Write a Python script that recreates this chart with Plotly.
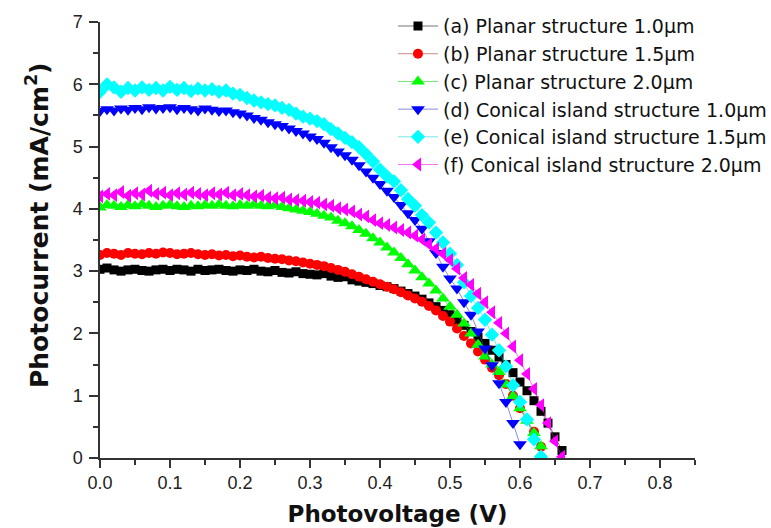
import plotly.graph_objects as go

voltage = [0.00, 0.01, 0.02, 0.03, 0.04, 0.05, 0.06, 0.07, 0.08, 0.09,
           0.10, 0.11, 0.12, 0.13, 0.14, 0.15, 0.16, 0.17, 0.18, 0.19,
           0.20, 0.21, 0.22, 0.23, 0.24, 0.25, 0.26, 0.27, 0.28, 0.29,
           0.30, 0.31, 0.32, 0.33, 0.34, 0.35, 0.36, 0.37, 0.38, 0.39,
           0.40, 0.41, 0.42, 0.43, 0.44, 0.45, 0.46, 0.47, 0.48, 0.49,
           0.50, 0.51, 0.52, 0.53, 0.54, 0.55, 0.56, 0.57, 0.58, 0.59,
           0.60, 0.61, 0.62, 0.63, 0.64, 0.65, 0.66]

planar_10 = [3.03, 3.05, 3.02, 3.00, 3.02, 3.03, 3.01, 3.00, 3.02, 3.03,
             3.01, 3.03, 3.02, 3.00, 3.03, 3.01, 3.02, 3.03, 3.01, 3.00,
             3.02, 3.01, 3.03, 3.00, 2.99, 3.01, 2.98, 2.97, 2.99, 2.96,
             2.95, 2.94, 2.96, 2.92, 2.90, 2.91, 2.86, 2.84, 2.82, 2.80,
             2.77, 2.75, 2.72, 2.68, 2.64, 2.60, 2.55, 2.49, 2.43, 2.37,
             2.30, 2.21, 2.13, 2.03, 1.94, 1.84, 1.73, 1.62, 1.50, 1.37,
             1.22, 1.08, 0.92, 0.75, 0.56, 0.34, 0.12]

planar_15 = [3.26, 3.29, 3.28, 3.26, 3.29, 3.28, 3.27, 3.29, 3.28, 3.30,
             3.29, 3.27, 3.28, 3.29, 3.27, 3.26, 3.27, 3.25, 3.26, 3.24,
             3.25, 3.23, 3.22, 3.23, 3.21, 3.20, 3.19, 3.17, 3.16, 3.14,
             3.12, 3.10, 3.08, 3.05, 3.02, 2.99, 2.95, 2.91, 2.87, 2.83,
             2.79, 2.75, 2.71, 2.66, 2.61, 2.56, 2.51, 2.44, 2.37, 2.28,
             2.19, 2.08, 1.96, 1.84, 1.71, 1.58, 1.45, 1.33, 1.19, 1.00,
             0.80, 0.61, 0.42, 0.18]

planar_20 = [4.02, 4.06, 4.05, 4.03, 4.06, 4.04, 4.07, 4.05, 4.03, 4.05,
             4.06, 4.04, 4.03, 4.05, 4.04, 4.06, 4.05, 4.07, 4.05, 4.04,
             4.06, 4.05, 4.07, 4.05, 4.04, 4.06, 4.03, 4.01, 3.99, 3.97,
             3.95, 3.92, 3.89, 3.86, 3.81, 3.77, 3.72, 3.66, 3.60, 3.53,
             3.46, 3.38, 3.30, 3.21, 3.11, 3.01, 2.90, 2.80, 2.69, 2.56,
             2.43, 2.30, 2.16, 2.00, 1.82, 1.63, 1.50, 1.38, 1.18, 0.99,
             0.80, 0.60, 0.40, 0.19]

conical_10 = [5.57, 5.60, 5.58, 5.61, 5.59, 5.62, 5.60, 5.63, 5.61, 5.62,
              5.63, 5.60, 5.62, 5.60, 5.58, 5.61, 5.59, 5.57, 5.58, 5.55,
              5.53, 5.50, 5.46, 5.43, 5.39, 5.36, 5.33, 5.29, 5.25, 5.21,
              5.16, 5.12, 5.06, 4.99, 4.92, 4.86, 4.79, 4.70, 4.60, 4.50,
              4.40, 4.29, 4.19, 4.06, 3.93, 3.82, 3.68, 3.48, 3.29, 3.07,
              2.88, 2.72, 2.50, 2.30, 2.03, 1.76, 1.49, 1.20, 0.90, 0.56,
              0.22]

conical_15 = [5.88, 6.00, 5.95, 5.88, 5.94, 5.90, 5.95, 5.91, 5.94, 5.90,
              5.96, 5.91, 5.94, 5.89, 5.93, 5.90, 5.92, 5.88, 5.90, 5.85,
              5.83, 5.78, 5.74, 5.71, 5.68, 5.66, 5.62, 5.59, 5.53, 5.48,
              5.45, 5.41, 5.36, 5.28, 5.21, 5.14, 5.07, 4.99, 4.88, 4.76,
              4.63, 4.52, 4.44, 4.30, 4.16, 4.05, 3.90, 3.78, 3.62, 3.46,
              3.28, 3.10, 2.82, 2.60, 2.41, 2.22, 1.98, 1.73, 1.47, 1.17,
              0.90, 0.62, 0.30, 0.02]

conical_20 = [4.20, 4.24, 4.22, 4.27, 4.21, 4.25, 4.23, 4.29, 4.24, 4.26,
              4.22, 4.25, 4.23, 4.26, 4.24, 4.22, 4.25, 4.23, 4.26, 4.22,
              4.24, 4.22, 4.20, 4.21, 4.18, 4.17, 4.18, 4.15, 4.14, 4.13,
              4.11, 4.10, 4.07, 4.05, 4.01, 3.99, 3.96, 3.91, 3.88, 3.82,
              3.77, 3.74, 3.70, 3.66, 3.62, 3.57, 3.51, 3.43, 3.36, 3.28,
              3.18, 3.04, 2.89, 2.78, 2.64, 2.50, 2.34, 2.17, 2.00, 1.79,
              1.57, 1.35, 1.11, 0.85, 0.56, 0.27, 0.02]

series_names = ["(a) Planar structure 1.0\u03bcm",
                "(b) Planar structure 1.5\u03bcm",
                "(c) Planar structure 2.0\u03bcm",
                "(d) Conical island structure 1.0\u03bcm",
                "(e) Conical island structure 1.5\u03bcm",
                "(f) Conical island structure 2.0\u03bcm"]
series_values = [planar_10, planar_15, planar_20, conical_10, conical_15, conical_20]

marker_colors = ["#000000", "#ff0000", "#00ff00", "#0000ff", "#00ffff", "#ff00ff"]
line_colors = ["rgba(0,0,0,0.55)", "rgba(170,60,60,0.6)", "rgba(0,200,0,0.55)",
               "rgba(60,60,200,0.6)", "rgba(0,210,210,0.55)", "rgba(230,0,230,0.55)"]
symbols = ["square", "circle", "triangle-up", "triangle-down", "diamond", "triangle-left"]
sizes = [9, 10, 12, 12, 11, 12]

fig = go.Figure()
for i, (name, vals) in enumerate(zip(series_names, series_values)):
    fig.add_trace(go.Scatter(
        x=voltage[:len(vals)], y=vals, name=name, mode="lines+markers",
        line=dict(color=line_colors[i], width=1),
        marker=dict(symbol=symbols[i], color=marker_colors[i], size=sizes[i],
                    line=dict(width=0)),
    ))

axis_font = dict(family="Liberation Sans, Arial, sans-serif", size=18, color="#222")
title_family = "DejaVu Sans, sans-serif"
fig.update_layout(
    width=771, height=528,
    margin=dict(l=100, r=76, t=22, b=70, autoexpand=False),
    paper_bgcolor="white", plot_bgcolor="white",
    showlegend=True,
    legend=dict(x=0.4924, y=1.034, xanchor="left", yanchor="top",
                font=dict(family="DejaVu Sans, sans-serif", size=19, color="#111"),
                bgcolor="rgba(0,0,0,0)", itemwidth=40),
    xaxis=dict(range=[0, 0.85], dtick=0.1, tickformat=".1f", automargin=False,
               showline=True, linecolor="#333", linewidth=1.5,
               ticks="outside", ticklen=8, tickwidth=1.5, tickcolor="#333",
               minor=dict(dtick=0.05, ticks="outside", ticklen=5, tickcolor="#333", tickwidth=1.5),
               showgrid=False, zeroline=False, tickfont=axis_font,
               title=dict(text="<b>Photovoltage (V)</b>", standoff=14,
                          font=dict(family=title_family, size=23, color="#111"))),
    yaxis=dict(range=[0, 7], dtick=1, automargin=False,
               showline=True, linecolor="#333", linewidth=1.5,
               ticks="outside", ticklen=9, tickwidth=1.5, tickcolor="#333",
               ticklabelstandoff=3,
               minor=dict(dtick=0.5, ticks="outside", ticklen=5, tickcolor="#333", tickwidth=1.5),
               showgrid=False, zeroline=False, tickfont=axis_font),
    annotations=[dict(text="<b>Photocurrent (mA/cm<sup>2</sup>)</b>",
                      xref="paper", yref="paper", x=-63 / 595, y=(458 - 225) / 436,
                      xanchor="center", yanchor="middle", textangle=-90, showarrow=False,
                      font=dict(family=title_family, size=25, color="#111"))],
)

fig.write_html("out.html")
